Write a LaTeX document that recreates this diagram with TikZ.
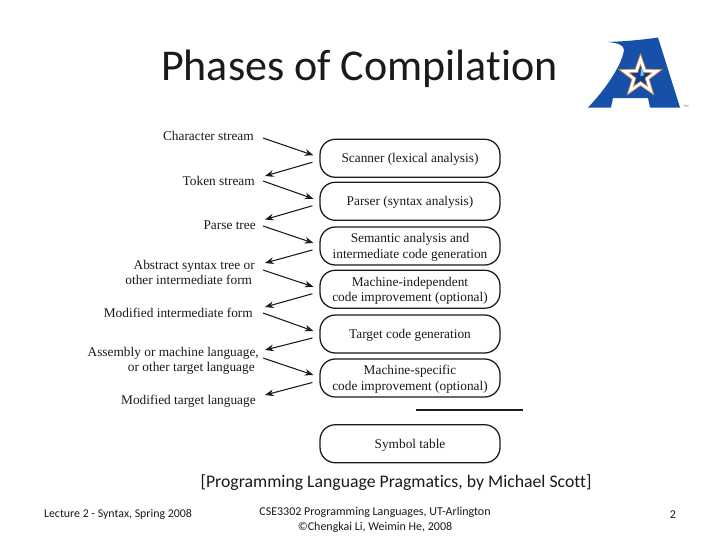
\documentclass[tikz,border=0pt]{standalone}
\usepackage{fontspec}
\setmainfont{Liberation Serif}
\newfontfamily\calfont[Ligatures=NoCommon]{Carlito}
\usetikzlibrary{shapes.geometric,arrows.meta}
\definecolor{utablue}{HTML}{1750A8}
\definecolor{utaorange}{HTML}{D08A45}
\definecolor{utanavy}{HTML}{123F8C}
\definecolor{ink}{HTML}{1A1A1A}
\newcommand{\phasetext}[1]{\raisebox{-1.1pt}[\height][\depth]{\begin{tabular}{@{}c@{}}#1\end{tabular}}}
\tikzset{
  phase/.style={draw=ink,line width=0.95pt,rounded corners=11.5pt,minimum width=135pt,minimum height=28.5pt,inner sep=0pt,font=\fontsize{10}{11.5}\selectfont,text=ink},
  lab/.style={anchor=east,align=right,inner sep=0pt,font=\fontsize{10}{11.25}\selectfont,text=ink},
  flow/.style={draw=ink,line width=0.8pt,-{Stealth[length=6.5pt,width=5pt]}},
  foot/.style={inner sep=0pt,align=center,text=ink}
}
\begin{document}
\begin{tikzpicture}[x=0.75pt,y=-0.75pt]
\useasboundingbox (0,0) rectangle (720,540);
\fill[white] (0,0) rectangle (720,540);
\node[foot,font=\calfont\fontsize{33}{39}\selectfont] (title) at (359.5,69) {Phases of Compilation};
% logo
\fill[utablue] (588,107.5) .. controls (605,90) and (622,65) .. (624,50) .. controls (624,45) and (618,43) .. (608,42)
  .. controls (630,41) and (640,40) .. (658,37.5) -- (680,107.5) -- (650,107.5) -- (648,98) -- (613,98) -- (611,107.5) -- cycle;
\node[star,star points=5,star point ratio=2.5,minimum size=34pt,inner sep=0pt,fill=white,draw=utaorange,line width=0.5pt] (s1) at (640.5,76.5) {};
\node[star,star points=5,star point ratio=2.5,minimum size=18pt,inner sep=0pt,fill=utanavy,draw=utaorange,line width=0.4pt] (s2) at (640.5,76.5) {};
\fill[cyan!60!white] (640.5,76.5) -- (641,68) -- (644,75) -- cycle;
\node[inner sep=0pt,font=\fontsize{2.6}{3}\selectfont,text=black!60] (tm) at (686,106) {TM};
% phases
\node[phase] (p1) at (410,158.25) {\phasetext{Scanner (lexical analysis)}};
\node[phase] (p2) at (410,201.25) {\phasetext{Parser (syntax analysis)}};
\node[phase] (p3) at (410,246) {\phasetext{Semantic analysis and\\intermediate code generation}};
\node[phase] (p4) at (410,289.25) {\phasetext{Machine-independent\\code improvement (optional)}};
\node[phase] (p5) at (410,334) {\phasetext{Target code generation}};
\node[phase] (p6) at (410,378) {\phasetext{Machine-specific\\code improvement (optional)}};
\node[phase] (p7) at (410,443.75) {\phasetext{Symbol table}};
\coordinate (r1) at (416,410);
\coordinate (r2) at (523,410);
\draw[draw=ink,line width=1.2pt] (r1) -- (r2);
% labels
\node[lab] (l0) at (254,135.5) {Character stream};
\node[lab] (l1) at (255,180.5) {Token stream};
\node[lab] (l2) at (256,225.5) {Parse tree};
\node[lab] (l3) at (255,272.5) {Abstract syntax tree or\\other intermediate form\hspace*{2pt}};
\node[lab] (l4) at (253,312.5) {Modified intermediate form};
\node[lab] (l5) at (259,360.5) {Assembly or machine language,\\or other target language\hspace*{3pt}};
\node[lab] (l6) at (256,401.5) {Modified target language};
% connection points beside the labels
\coordinate (a0) at (263,138);
\coordinate (a1) at (263,181);
\coordinate (a2) at (263,226);
\coordinate (a3) at (263,270);
\coordinate (a4) at (263,313);
\coordinate (a5) at (263,358);
\coordinate (b1) at (265,176);
\coordinate (b2) at (265,219.5);
\coordinate (b3) at (265,263);
\coordinate (b4) at (265,307);
\coordinate (b5) at (265,350);
\coordinate (b6) at (265,395);
\draw[flow] (a0) -- ([shift={(-6,-3)}]p1.west);
\draw[flow] ([shift={(-7,4)}]p1.west) -- (b1);
\draw[flow] (a1) -- ([shift={(-6,-2.5)}]p2.west);
\draw[flow] ([shift={(-7,4.5)}]p2.west) -- (b2);
\draw[flow] (a2) -- ([shift={(-6,-3)}]p3.west);
\draw[flow] ([shift={(-7,4)}]p3.west) -- (b3);
\draw[flow] (a3) -- ([shift={(-6,-2.5)}]p4.west);
\draw[flow] ([shift={(-7,4.5)}]p4.west) -- (b4);
\draw[flow] (a4) -- ([shift={(-6,-3)}]p5.west);
\draw[flow] ([shift={(-7,4)}]p5.west) -- (b5);
\draw[flow] (a5) -- ([shift={(-6,-3)}]p6.west);
\draw[flow] ([shift={(-7,4.5)}]p6.west) -- (b6);
% footer
\node[foot,font=\calfont\fontsize{13.3}{15}\selectfont] (src) at (396,482.5) {[Programming Language Pragmatics, by Michael Scott]};
\node[foot,font=\calfont\fontsize{8.9}{11}\selectfont] (f1) at (118,514.5) {Lecture 2 - Syntax, Spring 2008};
\node[foot,font=\calfont\fontsize{9}{11.25}\selectfont] (f2) at (375,520) {CSE3302 Programming Languages, UT-Arlington\\©Chengkai Li, Weimin He, 2008};
\node[foot,font=\calfont\fontsize{9}{11}\selectfont] (f3) at (673,514.5) {2};
\end{tikzpicture}
\end{document}
